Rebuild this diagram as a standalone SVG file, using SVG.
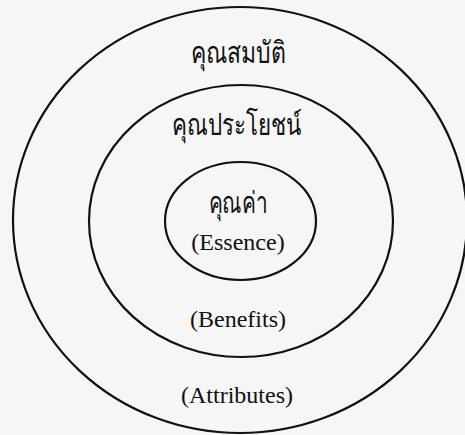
<svg xmlns="http://www.w3.org/2000/svg" width="465" height="435" viewBox="0 0 465 435">
<style>
.ring{fill:none;stroke:#111;stroke-width:2.2}
.th{font-family:"Liberation Serif","Noto Sans","DejaVu Sans",sans-serif;font-size:30px;fill:#111;text-anchor:middle}
.en{font-family:"Liberation Serif","Times New Roman",serif;font-size:24px;fill:#111;text-anchor:middle}
</style>
<rect width="465" height="435" fill="#f6f6f6"/>
<g id="outer">
<ellipse class="ring" cx="240" cy="220" rx="227" ry="213"/>
<text class="th" x="238" y="63" textLength="95" lengthAdjust="spacingAndGlyphs">คุณสมบัติ</text>
<text class="en" x="237" y="403">(Attributes)</text>
</g>
<g id="middle">
<ellipse class="ring" cx="241" cy="221" rx="152" ry="136"/>
<text class="th" x="237" y="135" textLength="130" lengthAdjust="spacingAndGlyphs">คุณประโยชน์</text>
<text class="en" x="238" y="327">(Benefits)</text>
</g>
<g id="inner">
<ellipse class="ring" cx="240.5" cy="221" rx="75.5" ry="59"/>
<text class="th" x="238" y="213" textLength="59" lengthAdjust="spacingAndGlyphs">คุณค่า</text>
<text class="en" x="238" y="250">(Essence)</text>
</g>
<g id="connectors"/>
</svg>
